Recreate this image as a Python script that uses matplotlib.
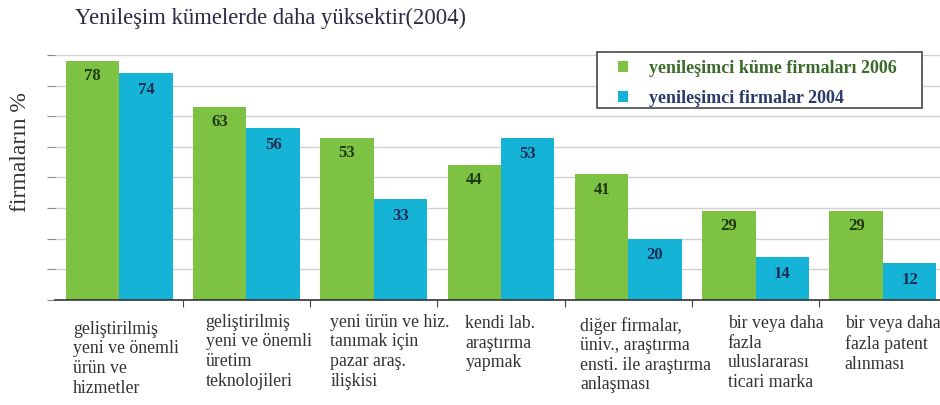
import matplotlib
matplotlib.use("Agg")
import matplotlib.pyplot as plt
from matplotlib.patches import Rectangle
import numpy as np

# data
categories = [
    "geliştirilmiş\nyeni ve önemli\nürün ve\nhizmetler",
    "geliştirilmiş\nyeni ve önemli\nüretim\nteknolojileri",
    "yeni ürün ve hiz.\ntanımak için\npazar araş.\nilişkisi",
    "kendi lab.\naraştırma\nyapmak",
    "diğer firmalar,\nüniv., araştırma\nensti. ile araştırma\nanlaşması",
    "bir veya daha\nfazla\nuluslararası\nticari marka",
    "bir veya daha\nfazla patent\nalınması",
]
cluster_2006 = [78, 63, 53, 44, 41, 29, 29]
firms_2004 = [74, 56, 33, 53, 20, 14, 12]
series_names = ["yenileşimci küme firmaları 2006", "yenileşimci firmalar 2004"]

GREEN = "#7dc242"
CYAN = "#15b3d6"
SERIF = ["Liberation Serif", "DejaVu Serif"]

fig = plt.figure(figsize=(9.4, 4.05), dpi=100)
ax = fig.add_axes([0.059, 0.2593, 0.948, 0.605])

x = np.arange(len(categories))
w = 0.42
b1 = ax.bar(x - w / 2, cluster_2006, w, color=GREEN, zorder=2, label=series_names[0])
b2 = ax.bar(x + w / 2, firms_2004, w, color=CYAN, zorder=2, label=series_names[1])

for rect, v in zip(b1, cluster_2006):
    ax.annotate(str(v), (rect.get_x() + rect.get_width() / 2, v),
                xytext=(0, -11), textcoords="offset points", ha="center", va="center",
                fontsize=12, fontweight="bold", color="#1d3b12", family=SERIF, zorder=3)
for rect, v in zip(b2, firms_2004):
    ax.annotate(str(v), (rect.get_x() + rect.get_width() / 2, v),
                xytext=(0, -12), textcoords="offset points", ha="center", va="center",
                fontsize=12, fontweight="bold", color="#1c2c55", family=SERIF, zorder=3)

ax.set_xlim(-0.5, len(categories) - 0.5)
ax.set_ylim(0, 80)
ax.set_yticks(np.arange(0, 81, 10))
ax.set_yticklabels([])
ax.yaxis.grid(True, color="#d0d0d0", linewidth=1, zorder=0)
ax.tick_params(axis="y", length=6, color="#888888", direction="out")
ax.set_xticks(np.arange(len(categories) - 1) + 0.5)
ax.set_xticklabels([])
ax.tick_params(axis="x", length=5, color="#444444")
for s in ["top", "right", "left"]:
    ax.spines[s].set_visible(False)
ax.spines["bottom"].set_color("#333333")
ax.spines["bottom"].set_linewidth(1.2)

# category labels below the axis, left aligned under each group
label_dx = [-0.36, -0.32, -0.34, -0.28, -0.38, -0.22, -0.30]
label_dy = [-15, -10, -10, -11, -12, -11, -11]
for i, (lab, dx, dy) in enumerate(zip(categories, label_dx, label_dy)):
    ax.annotate(lab, (i + dx, 0), xycoords=("data", "axes fraction"),
                xytext=(0, dy), textcoords="offset points", ha="left", va="top",
                fontsize=12.8, family=SERIF, color="#333333", linespacing=1.2,
                annotation_clip=False)

fig.text(0.08, 0.955, "Yenileşim kümelerde daha yüksektir(2004)", fontsize=16.3,
         family=SERIF, color="#2b2b45", va="center", ha="left")
fig.text(0.022, 0.625, "firmaların %", rotation=90, fontsize=17, family=SERIF,
         color="#333333", va="center", ha="center")

# legend box (wider than the entries, like the original)
ax.add_patch(Rectangle((597 / 940, 1 - 108 / 405), 325 / 940, 56 / 405,
                       transform=fig.transFigure, facecolor="white", clip_on=False,
                       edgecolor="#555555", linewidth=1.3, zorder=5))
leg = ax.legend(loc="upper left", bbox_to_anchor=(618 / 940, 1 - 60 / 405),
                bbox_transform=fig.transFigure, frameon=False,
                handlelength=0.55, handleheight=0.55, handletextpad=1.15,
                borderpad=0, borderaxespad=0, labelspacing=0.7,
                prop={"family": SERIF, "weight": "bold", "size": 13})
leg.set_zorder(6)
leg.texts[0].set_color("#3a6b2a")
leg.texts[1].set_color("#2a3a6b")

fig.savefig("out.png", dpi=100)
